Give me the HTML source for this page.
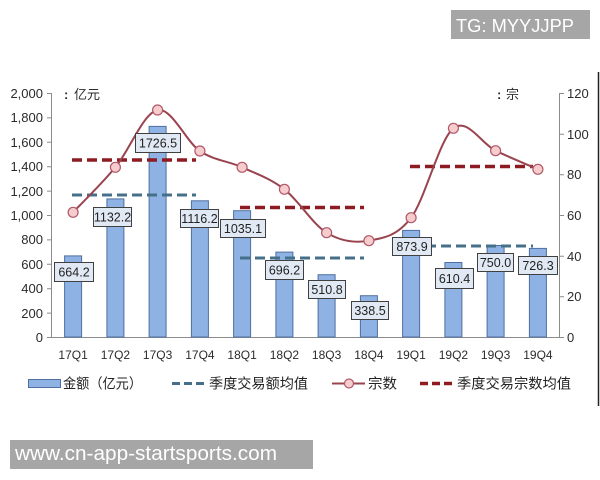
<!DOCTYPE html>
<html><head><meta charset="utf-8"><style>
html,body{margin:0;padding:0;background:#fff;}
svg{display:block;}
text{font-family:"Liberation Sans","Noto Sans CJK SC",sans-serif;}
</style></head><body>
<svg width="600" height="480" viewBox="0 0 600 480" xmlns="http://www.w3.org/2000/svg">
<rect x="0" y="0" width="600" height="480" fill="#fff"/>
<!-- watermark top -->
<rect x="451" y="10" width="139" height="29" fill="#a6a6a6"/>
<text x="456" y="32" font-size="18" fill="#fff" textLength="118" lengthAdjust="spacingAndGlyphs">TG: MYYJJPP</text>
<!-- right frame line -->
<line x1="598.5" y1="72" x2="598.5" y2="406" stroke="#222" stroke-width="1.5"/>
<!-- axes -->
<g stroke="#8c8c8c" stroke-width="1" fill="none">
<line x1="51.5" y1="93" x2="51.5" y2="337"/>
<line x1="559.5" y1="93" x2="559.5" y2="337"/>
<line x1="47" y1="337.5" x2="564" y2="337.5"/>
<path d="M47 93.5H51.5M47 117.9H51.5M47 142.3H51.5M47 166.7H51.5M47 191.1H51.5M47 215.5H51.5M47 239.9H51.5M47 264.3H51.5M47 288.7H51.5M47 313.1H51.5"/>
<path d="M559.5 93.5H564M559.5 134.2H564M559.5 174.8H564M559.5 215.5H564M559.5 256.2H564M559.5 296.8H564"/>
</g>
<!-- left labels -->
<g font-size="13" fill="#2b2b2b" text-anchor="end">
<text x="43" y="98">2,000</text>
<text x="43" y="122">1,800</text>
<text x="43" y="147">1,600</text>
<text x="43" y="171">1,400</text>
<text x="43" y="196">1,200</text>
<text x="43" y="220">1,000</text>
<text x="43" y="244">800</text>
<text x="43" y="269">600</text>
<text x="43" y="293">400</text>
<text x="43" y="318">200</text>
<text x="43" y="342">0</text>
</g>
<g font-size="13" fill="#2b2b2b">
<text x="567" y="98">120</text>
<text x="567" y="139">100</text>
<text x="567" y="179">80</text>
<text x="567" y="220">60</text>
<text x="567" y="261">40</text>
<text x="567" y="301">20</text>
<text x="567" y="342">0</text>
</g>
<g font-size="13" fill="#2b2b2b" font-weight="bold">
<text x="64" y="99">:</text>
<text x="74" y="99" font-weight="normal">亿元</text>
<text x="497" y="99">:</text>
<text x="506" y="99" font-weight="normal">宗</text>
</g>
<!-- bars -->
<g fill="#8db2e3" stroke="#4f6fa0" stroke-width="1">
<rect x="64.6" y="255.9" width="17" height="81.1"/>
<rect x="106.9" y="198.9" width="17" height="138.1"/>
<rect x="149.1" y="126.4" width="17" height="210.6"/>
<rect x="191.4" y="200.8" width="17" height="136.2"/>
<rect x="233.6" y="210.7" width="17" height="126.3"/>
<rect x="275.9" y="252.1" width="17" height="84.9"/>
<rect x="318.1" y="274.7" width="17" height="62.3"/>
<rect x="360.4" y="295.7" width="17" height="41.3"/>
<rect x="402.6" y="230.4" width="17" height="106.6"/>
<rect x="444.9" y="262.5" width="17" height="74.5"/>
<rect x="487.1" y="245.5" width="17" height="91.5"/>
<rect x="529.4" y="248.4" width="17" height="88.6"/>
</g>
<!-- blue dashed averages -->
<g stroke="#46708a" stroke-width="3" stroke-dasharray="10,5" fill="none">
<line x1="72" y1="195" x2="196" y2="195"/>
<line x1="240" y1="258" x2="364" y2="258"/>
<line x1="411" y1="246" x2="533" y2="246"/>
</g>
<!-- red dashed averages -->
<g stroke="#8e1b22" stroke-width="3.5" stroke-dasharray="10,5" fill="none">
<line x1="72" y1="160" x2="196" y2="160"/>
<line x1="240" y1="207.5" x2="364" y2="207.5"/>
<line x1="410" y1="166.5" x2="533" y2="166.5"/>
</g>
<!-- smooth line -->
<path d="M73.1 212.3 C80.15 204.8 101.3 184.35 115.4 167.3 C129.5 150.25 143.5 112.7 157.6 110 C171.7 107.3 185.8 141.45 199.9 151 C214 160.55 228 160.9 242.1 167.3 C256.2 173.7 270.3 178.4 284.4 189.3 C298.5 200.2 312.5 224.1 326.6 232.7 C340.7 241.3 354.8 243.2 368.9 240.7 C383 238.2 397 236.4 411.1 217.7 C425.2 199 439.3 139.5 453.4 128.3 C467.5 117.1 481.5 143.9 495.6 150.7 C509.7 157.5 530.85 166.2 537.9 169.3" fill="none" stroke="#9a4450" stroke-width="2"/>
<g fill="#f6cccc" stroke="#b0596a" stroke-width="1.2">
<circle cx="73.1" cy="212.3" r="5"/>
<circle cx="115.4" cy="167.3" r="5"/>
<circle cx="157.6" cy="110" r="5"/>
<circle cx="199.9" cy="151" r="5"/>
<circle cx="242.1" cy="167.3" r="5"/>
<circle cx="284.4" cy="189.3" r="5"/>
<circle cx="326.6" cy="232.7" r="5"/>
<circle cx="368.9" cy="240.7" r="5"/>
<circle cx="411.1" cy="217.7" r="5"/>
<circle cx="453.4" cy="128.3" r="5"/>
<circle cx="495.6" cy="150.7" r="5"/>
<circle cx="537.9" cy="169.3" r="5"/>
</g>
<!-- data labels -->
<g fill="#e1e9f4" stroke="#404040" stroke-width="1">
<rect x="54.5" y="262.5" width="39" height="19"/>
<rect x="93.5" y="207.5" width="38" height="19"/>
<rect x="135.5" y="133.5" width="45" height="19"/>
<rect x="180.5" y="209.5" width="38" height="18"/>
<rect x="220.5" y="219.5" width="45" height="18"/>
<rect x="265.5" y="260.5" width="38" height="19"/>
<rect x="308.5" y="280.5" width="37" height="18"/>
<rect x="351.5" y="301.5" width="37" height="18"/>
<rect x="392.5" y="237.5" width="39" height="18"/>
<rect x="435.5" y="268.5" width="38" height="20"/>
<rect x="477.5" y="253.5" width="36" height="18"/>
<rect x="518.5" y="256.5" width="39" height="18"/>
</g>
<g font-size="12.5" fill="#222" text-anchor="middle">
<text x="74" y="276.5">664.2</text>
<text x="112.5" y="221.5">1132.2</text>
<text x="158" y="147.5">1726.5</text>
<text x="199.5" y="223">1116.2</text>
<text x="243" y="233">1035.1</text>
<text x="284.5" y="274.5">696.2</text>
<text x="327" y="294">510.8</text>
<text x="370" y="315">338.5</text>
<text x="412" y="251">873.9</text>
<text x="454.5" y="283">610.4</text>
<text x="495.5" y="267">750.0</text>
<text x="538" y="270">726.3</text>
</g>
<!-- category labels -->
<g font-size="12" fill="#2b2b2b" text-anchor="middle">
<text x="73.1" y="359">17Q1</text>
<text x="115.4" y="359">17Q2</text>
<text x="157.6" y="359">17Q3</text>
<text x="199.9" y="359">17Q4</text>
<text x="242.1" y="359">18Q1</text>
<text x="284.4" y="359">18Q2</text>
<text x="326.6" y="359">18Q3</text>
<text x="368.9" y="359">18Q4</text>
<text x="411.1" y="359">19Q1</text>
<text x="453.4" y="359">19Q2</text>
<text x="495.6" y="359">19Q3</text>
<text x="537.9" y="359">19Q4</text>
</g>
<!-- legend -->
<rect x="28.5" y="379.5" width="32" height="8" fill="#8db2e3" stroke="#4f6fa0" stroke-width="1"/>
<text x="63" y="388.5" font-size="14" fill="#222" textLength="79" lengthAdjust="spacingAndGlyphs">金额（亿元）</text>
<line x1="172" y1="383.5" x2="208" y2="383.5" stroke="#46708a" stroke-width="3" stroke-dasharray="8,4"/>
<text x="209" y="388.5" font-size="14" fill="#222" textLength="99" lengthAdjust="spacingAndGlyphs">季度交易额均值</text>
<line x1="332" y1="383.5" x2="365" y2="383.5" stroke="#9a4450" stroke-width="2"/>
<circle cx="349" cy="383.5" r="4.5" fill="#f6cccc" stroke="#b0596a" stroke-width="1.2"/>
<text x="368" y="388.5" font-size="14" fill="#222" textLength="29" lengthAdjust="spacingAndGlyphs">宗数</text>
<line x1="420" y1="383.5" x2="456" y2="383.5" stroke="#8e1b22" stroke-width="3.5" stroke-dasharray="8,4"/>
<text x="457" y="388.5" font-size="14" fill="#222" textLength="114" lengthAdjust="spacingAndGlyphs">季度交易宗数均值</text>
<!-- watermark bottom -->
<rect x="10" y="440" width="303" height="29" fill="#a6a6a6"/>
<text x="15" y="460" font-size="20.5" fill="#fff" textLength="262" lengthAdjust="spacingAndGlyphs">www.cn-app-startsports.com</text>
</svg>
</body></html>
